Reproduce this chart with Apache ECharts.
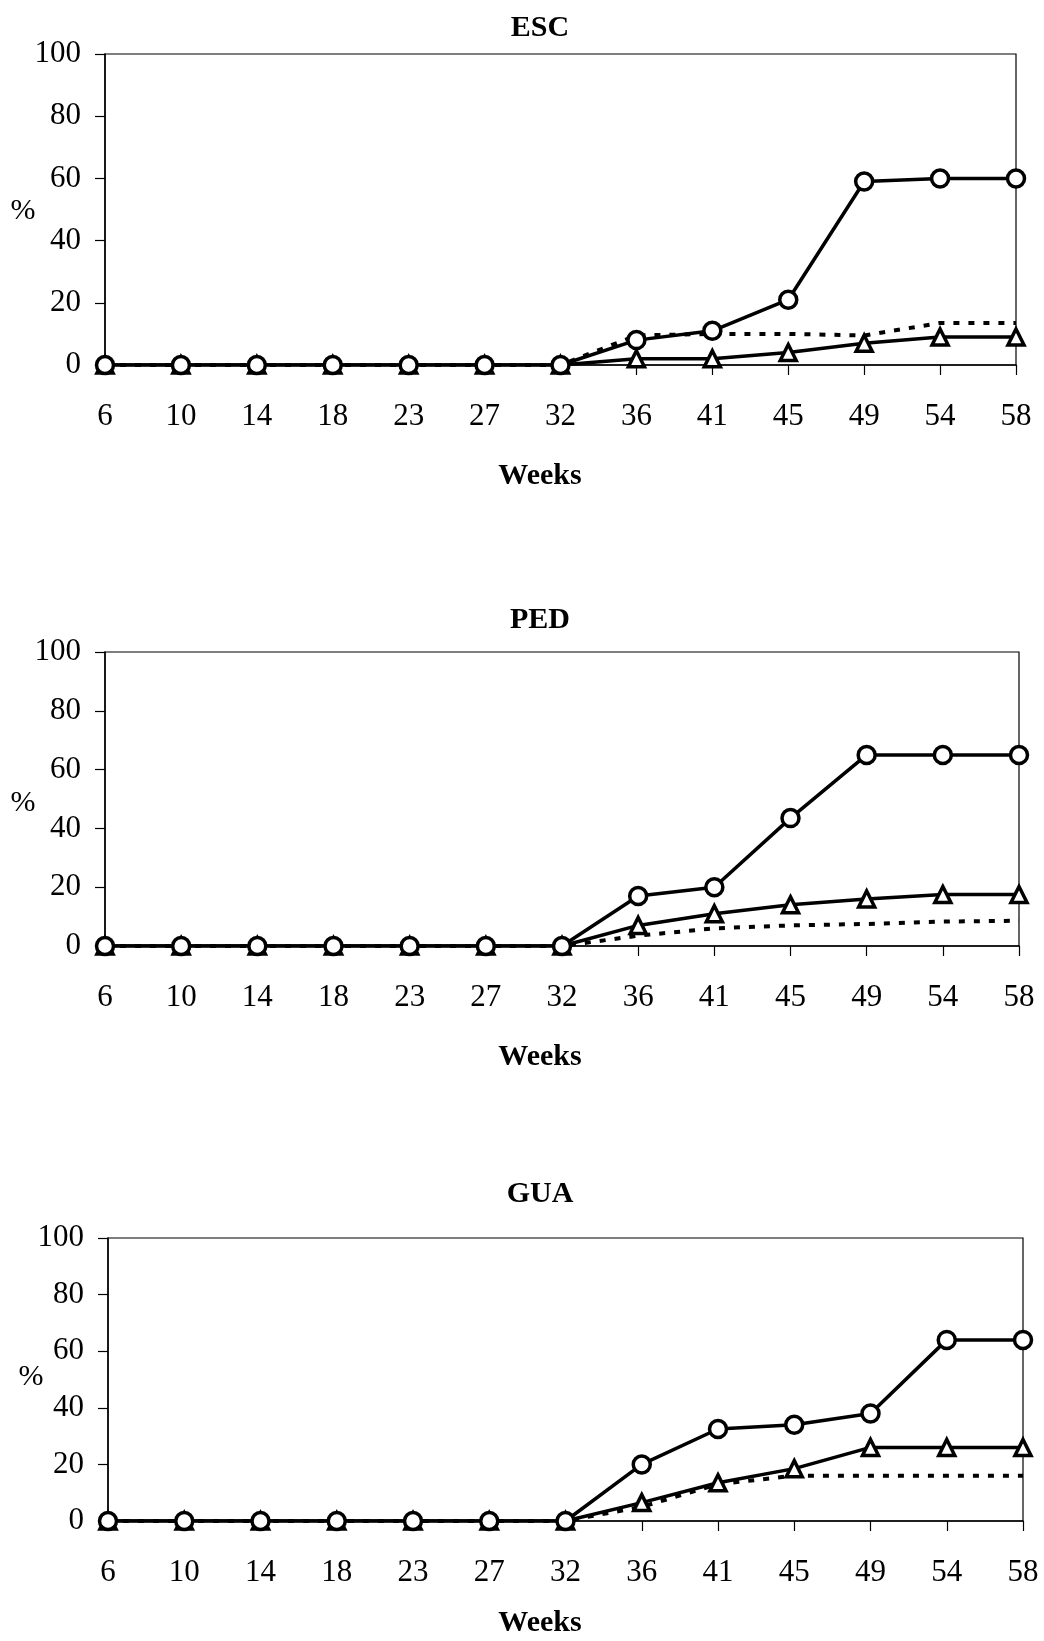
<!DOCTYPE html>
<html>
<head>
<meta charset="utf-8">
<script src="https://cdn.jsdelivr.net/npm/echarts@6/dist/echarts.min.js"></script>
<style>
html,body{margin:0;padding:0;background:#fff;}
#chart{width:1044px;height:1641px;}
</style>
</head>
<body>
<div id="chart"></div>
<script>
var weeks = ['6','10','14','18','23','27','32','36','41','45','49','54','58'];
var yTicks = [0,20,40,60,80,100];
var panelTitles = ['ESC','PED','GUA'];

var escCircle   = [0,0,0,0,0,0,0,8,11,21,59,60,60];
var escTriangle = [0,0,0,0,0,0,0,2,2,4,7,9,9];
var escDotted   = [0,0,0,0,0,0,0,9.5,10,10,9.5,13.5,13.5];

var pedCircle   = [0,0,0,0,0,0,0,17,20,43.5,65,65,65];
var pedTriangle = [0,0,0,0,0,0,0,7,11,14,16,17.5,17.5];
var pedDotted   = [0,0,0,0,0,0,0,3.5,6,7,7.5,8.3,8.6];

var guaCircle   = [0,0,0,0,0,0,0,20,32.5,34,38,64,64];
var guaTriangle = [0,0,0,0,0,0,0,6.5,13.5,18.5,26,26,26];
var guaDotted   = [0,0,0,0,0,0,0,5,13,16,16,16,16];

var panels = [
  {circle: escCircle, triangle: escTriangle, dotted: escDotted},
  {circle: pedCircle, triangle: pedTriangle, dotted: pedDotted},
  {circle: guaCircle, triangle: guaTriangle, dotted: guaDotted}
];

var FONT = '"Liberation Serif","Times New Roman",serif';
var layout = [
  {left:105, right:28, top:54,   height:311, titleY:28,   weeksY:476,  pctY:211, pctX:23},
  {left:105, right:25, top:652,  height:294, titleY:620,  weeksY:1057, pctY:803, pctX:23},
  {left:108, right:21, top:1238, height:283, titleY:1194, weeksY:1623, pctY:1377, pctX:31}
];

var grids = [], xAxes = [], yAxes = [], series = [], graphics = [];
layout.forEach(function(L, i){
  grids.push({left:L.left, right:L.right, top:L.top, height:L.height, show:true,
    borderColor:'#000', borderWidth:1.2, backgroundColor:'transparent'});
  xAxes.push({type:'category', gridIndex:i, data:weeks, boundaryGap:false,
    axisLine:{lineStyle:{color:'#000', width:1.5}},
    axisTick:{show:true, inside:false, length:10, alignWithLabel:true, lineStyle:{color:'#000', width:1.2}},
    axisLabel:{color:'#000', fontFamily:FONT, fontSize:31, margin:36, interval:0},
    splitLine:{show:false}});
  yAxes.push({type:'value', gridIndex:i, min:yTicks[0], max:yTicks[yTicks.length-1], interval:20,
    axisLine:{show:true, lineStyle:{color:'#000', width:1.5}},
    axisTick:{show:true, inside:false, length:10, lineStyle:{color:'#000', width:1.2}},
    axisLabel:{color:'#000', fontFamily:FONT, fontSize:31, margin:24},
    splitLine:{show:false}});
  var P = panels[i];
  series.push({type:'line', xAxisIndex:i, yAxisIndex:i, data:P.dotted, symbol:'none',
    lineStyle:{color:'#000', width:4, type:[6,9]}, z:2, animation:false});
  series.push({type:'line', xAxisIndex:i, yAxisIndex:i, data:P.triangle, symbol:'triangle', symbolSize:16,
    lineStyle:{color:'#000', width:3.5}, itemStyle:{color:'#fff', borderColor:'#000', borderWidth:3.5}, z:3, animation:false});
  series.push({type:'line', xAxisIndex:i, yAxisIndex:i, data:P.circle, symbol:'circle', symbolSize:17,
    lineStyle:{color:'#000', width:3.5}, itemStyle:{color:'#fff', borderColor:'#000', borderWidth:3.5}, z:4, animation:false});
  graphics.push({type:'text', x:540, y:L.titleY, style:{text:panelTitles[i], fill:'#000',
    font:'bold 30px ' + FONT, align:'center', verticalAlign:'middle', textAlign:'center', textVerticalAlign:'middle'}});
  graphics.push({type:'text', x:540, y:L.weeksY, style:{text:'Weeks', fill:'#000',
    font:'bold 30px ' + FONT, align:'center', verticalAlign:'middle', textAlign:'center', textVerticalAlign:'middle'}});
  graphics.push({type:'text', x:L.pctX, y:L.pctY, style:{text:'%', fill:'#000',
    font:'30px ' + FONT, align:'center', verticalAlign:'middle', textAlign:'center', textVerticalAlign:'middle'}});
});

var chart = echarts.init(document.getElementById('chart'), null, {renderer:'canvas'});
chart.setOption({
  animation:false,
  backgroundColor:'#fff',
  grid:grids, xAxis:xAxes, yAxis:yAxes, series:series, graphic:graphics
});
</script>
</body>
</html>
